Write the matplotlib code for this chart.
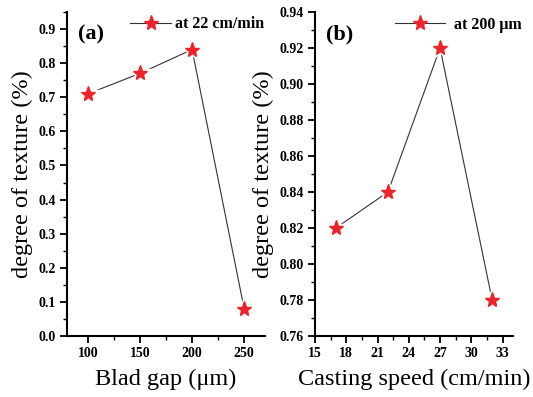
import matplotlib
matplotlib.use("Agg")
import matplotlib.pyplot as plt
from matplotlib.ticker import AutoMinorLocator

blade_gap = [100, 150, 200, 250]
texture_a = [0.71, 0.77, 0.84, 0.08]
casting_speed = [17, 22, 27, 32]
texture_b = [0.82, 0.84, 0.92, 0.78]

xticks_a = [100, 150, 200, 250]
yticks_a = [0.0, 0.1, 0.2, 0.3, 0.4, 0.5, 0.6, 0.7, 0.8, 0.9]
xticks_b = [15, 18, 21, 24, 27, 30, 33]
yticks_b = [0.76, 0.78, 0.80, 0.82, 0.84, 0.86, 0.88, 0.90, 0.92, 0.94]

plt.rcParams['font.family'] = ['Liberation Serif', 'DejaVu Serif']

fig = plt.figure(figsize=(5.33, 3.97), dpi=100)
axA = fig.add_axes([0.1257, 0.1537, 0.3715, 0.816])
axB = fig.add_axes([0.591, 0.1537, 0.3715, 0.816])

red = '#ee2229'
line_c = '#333333'
MS = 11

def draw(ax, x, y, label):
    ax.plot(x, y, color=line_c, lw=0.8, zorder=1)
    ax.plot(x, y, ls='none', marker='*', ms=MS + 7, color='white', mec='white', zorder=2)
    ax.plot(x, y, ls='none', marker='*', ms=MS, color=red, mec=red, zorder=3)
    ax.plot([], [], color=line_c, lw=0.8, marker='*', ms=MS, mfc=red, mec=red, label=label)
    for s in ['top', 'right']:
        ax.spines[s].set_visible(False)
    for s in ['left', 'bottom']:
        ax.spines[s].set_linewidth(1.5)
    ax.tick_params(which='major', direction='out', length=5, width=1.3, labelsize=10, pad=3)
    ax.tick_params(which='minor', direction='out', length=3, width=1.0)

draw(axA, blade_gap, texture_a, 'at 22 cm/min')
axA.set_xlim(80, 270)
axA.set_ylim(0, 0.95)
axA.set_xticks(xticks_a)
axA.set_xticklabels([str(v) for v in xticks_a], fontweight='bold')
axA.set_yticks(yticks_a)
axA.set_yticklabels(['%.1f' % v for v in yticks_a], fontweight='bold')
axA.xaxis.set_minor_locator(AutoMinorLocator(2))
axA.yaxis.set_minor_locator(AutoMinorLocator(2))
axA.set_xlabel('Blad gap (\u03bcm)', fontsize=17.5, labelpad=6)
axA.set_ylabel('degree of texture (%)', fontsize=17.5, labelpad=4)
axA.text(0.055, 0.93, '(a)', transform=axA.transAxes, fontsize=16, fontweight='bold', va='center')
axA.legend(loc='center left', bbox_to_anchor=(0.318, 0.962), frameon=False,
           prop={'weight': 'bold', 'size': 11.5}, handlelength=2.6, handletextpad=0.2,
           borderpad=0, borderaxespad=0)

draw(axB, casting_speed, texture_b, 'at 200 \u03bcm')
axB.set_xlim(15, 34)
axB.set_ylim(0.76, 0.94)
axB.set_xticks(xticks_b)
axB.set_xticklabels([str(v) for v in xticks_b], fontweight='bold')
axB.set_yticks(yticks_b)
axB.set_yticklabels(['%.2f' % v for v in yticks_b], fontweight='bold')
axB.xaxis.set_minor_locator(AutoMinorLocator(2))
axB.yaxis.set_minor_locator(AutoMinorLocator(2))
axB.set_xlabel('Casting speed (cm/min)', fontsize=17.5, labelpad=6)
axB.set_ylabel('degree of texture (%)', fontsize=17.5, labelpad=4)
axB.text(0.055, 0.93, '(b)', transform=axB.transAxes, fontsize=16, fontweight='bold', va='center')
axB.legend(loc='center left', bbox_to_anchor=(0.404, 0.96), frameon=False,
           prop={'weight': 'bold', 'size': 11.5}, handlelength=3.1, handletextpad=0.6,
           borderpad=0, borderaxespad=0)

fig.savefig('out.png', dpi=100)
